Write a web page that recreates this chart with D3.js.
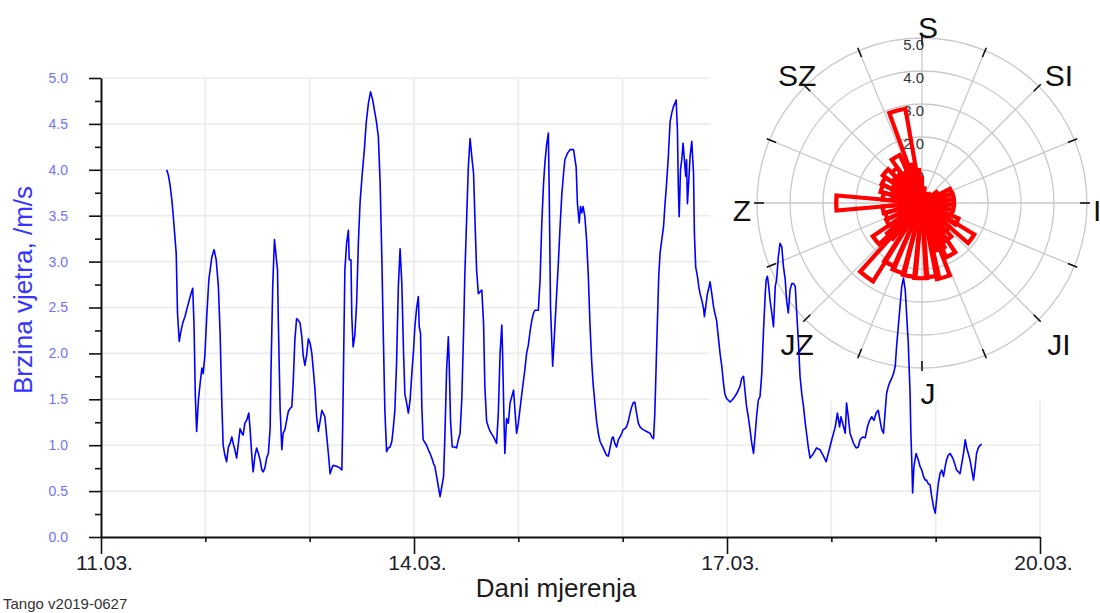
<!DOCTYPE html>
<html>
<head>
<meta charset="utf-8">
<script src="https://cdn.jsdelivr.net/npm/d3@7/dist/d3.min.js"></script>
<style>
  html, body { margin: 0; padding: 0; background: #ffffff; }
  svg { display: block; font-family: "Liberation Sans", Arial, sans-serif; }
</style>
</head>
<body>
<svg id="chart" width="1100" height="613"></svg>
<script>
// Wind speed series: hours since 11.03. 00:00 and speed in m/s
const hours = [
  15.1,15.5,15.9,16.3,16.6,17.3,17.6,18.0,18.3,18.8,
  19.3,19.9,20.3,20.7,21.1,21.4,21.7,22.0,22.4,22.8,
  23.2,23.5,23.9,24.3,24.8,25.5,26.0,26.5,27.0,27.4,
  27.8,28.1,28.5,28.9,29.3,29.7,30.1,30.4,30.8,31.2,
  31.6,32.0,32.4,32.7,33.1,33.5,34.0,34.3,34.7,35.0,
  35.4,35.8,36.2,36.6,37.0,37.3,37.7,38.1,38.5,38.9,
  39.1,39.5,39.9,40.3,40.6,40.8,41.2,41.6,41.9,42.3,
  42.7,43.1,43.5,43.9,44.2,44.6,45.0,45.4,45.8,46.2,
  46.5,46.9,47.3,47.7,48.1,48.5,48.8,49.2,49.6,50.0,
  50.4,50.8,51.1,51.5,51.9,52.3,52.7,53.1,53.4,54.2,
  55.0,55.4,55.6,55.9,56.1,56.5,56.9,57.1,57.5,57.7,
  58.0,58.4,58.8,59.2,59.6,60.1,60.6,61.0,61.5,62.0,
  62.5,62.9,63.4,63.8,64.2,64.6,64.95,65.3,65.7,66.1,
  66.5,66.9,67.2,67.6,68.0,68.4,68.8,69.2,69.6,69.9,
  70.3,70.7,71.1,71.5,71.9,72.2,72.6,73.0,73.2,73.5,
  73.8,74.1,74.9,75.3,75.7,76.1,76.5,76.8,77.2,77.6,
  78.0,78.4,78.8,79.1,79.5,79.9,80.1,80.4,80.8,81.4,
  81.8,82.2,82.6,83.0,83.4,83.7,84.1,84.5,84.9,85.3,
  85.7,86.0,86.4,86.8,87.2,87.6,88.0,88.3,88.7,89.1,
  89.5,90.3,90.6,91.0,91.4,91.8,92.2,92.4,92.7,92.9,
  93.3,93.7,94.1,94.5,94.9,95.2,95.6,96.0,96.4,96.8,
  97.2,97.5,97.9,98.3,98.7,99.1,99.5,99.8,100.6,101.0,
  101.4,101.8,102.1,102.5,102.9,103.1,103.4,103.9,104.2,104.7,
  105.2,105.6,106.0,106.4,106.7,107.3,107.9,108.7,109.3,109.6,
  110.0,110.3,110.6,110.9,111.3,111.7,112.1,112.5,112.9,113.2,
  113.6,114.0,114.4,114.8,115.2,115.5,116.3,116.7,117.1,117.5,
  117.8,118.2,118.6,119.0,119.4,119.8,120.1,120.5,120.9,121.3,
  121.7,122.1,122.4,122.8,123.2,123.6,124.0,124.4,124.7,125.5,
  126.3,126.7,127.1,127.4,127.7,128.0,128.3,128.6,129.0,129.4,
  129.7,130.1,130.5,130.9,131.3,131.7,132.0,132.3,132.6,132.8,
  133.0,133.3,133.6,133.9,134.2,134.5,134.7,134.9,135.3,135.5,
  135.9,136.3,136.5,136.8,137.2,137.5,137.8,138.2,138.6,138.8,
  139.1,139.5,139.9,140.1,140.5,140.9,141.2,141.6,142.0,142.4,
  142.8,143.2,143.5,143.9,144.3,144.7,145.1,145.5,145.8,146.2,
  146.6,147.0,147.4,147.8,148.2,148.5,148.9,149.3,149.7,150.1,
  150.5,150.8,151.2,151.6,152.0,152.4,152.8,153.0,153.3,153.6,
  153.9,154.3,154.7,155.1,155.4,155.8,156.2,156.6,157.0,157.4,
  157.7,158.1,158.5,158.9,159.3,159.7,160.0,160.4,160.8,161.2,
  161.6,162.0,162.3,162.7,163.1,163.9,164.6,165.4,166.2,166.8,
  167.3,168.1,168.9,169.4,169.9,170.2,170.6,171.2,171.5,171.9,
  172.3,173.1,173.7,174.2,174.6,175.2,175.8,176.3,176.8,177.3,
  177.8,178.3,178.8,179.2,179.6,180.0,180.4,180.7,181.1,181.5,
  181.9,182.3,182.7,183.0,183.4,183.8,184.2,184.6,185.0,185.3,
  185.7,186.1,186.3,186.5,186.7,187.0,187.5,188.0,188.4,188.8,
  189.2,189.6,189.9,190.3,190.7,191.1,191.5,191.9,192.2,192.6,
  193.0,193.4,193.8,194.2,194.5,194.9,195.3,195.7,196.1,196.5,
  196.8,197.2,197.6,198.0,198.4,198.8,199.1,199.5,199.9,200.3,
  200.7,201.1,201.4,201.8,202.2,202.6
];
const speed = [
  4.00,3.94,3.83,3.67,3.51,3.09,2.44,2.13,2.22,2.33,
  2.40,2.51,2.58,2.65,2.71,2.31,1.53,1.15,1.49,1.67,
  1.84,1.78,1.98,2.38,2.80,3.05,3.13,3.02,2.73,2.22,
  1.44,1.00,0.89,0.82,0.98,1.02,1.09,1.02,0.95,0.86,
  1.02,1.18,1.13,1.11,1.24,1.27,1.35,1.17,0.88,0.71,
  0.88,0.97,0.91,0.84,0.73,0.71,0.75,0.86,0.91,1.18,
  1.78,2.73,3.24,3.05,2.91,2.33,1.40,0.95,1.13,1.17,
  1.27,1.37,1.40,1.42,1.67,2.15,2.38,2.36,2.33,2.18,
  1.98,1.87,1.98,2.16,2.11,2.00,1.84,1.62,1.31,1.15,
  1.26,1.38,1.35,1.31,1.11,0.91,0.69,0.75,0.78,0.77,
  0.75,0.73,1.22,2.25,2.91,3.20,3.34,3.02,3.02,2.40,
  2.07,2.20,2.55,3.20,3.65,3.96,4.23,4.51,4.72,4.85,
  4.76,4.65,4.51,4.36,3.87,3.04,2.18,1.37,0.93,0.97,
  0.98,1.04,1.17,1.38,1.91,2.73,3.14,2.76,2.00,1.56,
  1.46,1.35,1.49,1.78,2.04,2.29,2.49,2.62,2.29,2.22,
  1.42,1.06,1.00,0.95,0.91,0.86,0.80,0.77,0.66,0.55,
  0.44,0.55,0.66,1.09,1.82,2.18,1.89,1.27,0.98,0.98,
  0.97,1.06,1.13,1.51,2.22,2.87,3.45,4.03,4.34,4.14,
  3.96,3.49,2.91,2.65,2.67,2.69,2.33,1.64,1.26,1.20,
  1.15,1.09,1.06,1.02,1.35,2.00,2.31,1.96,1.27,0.91,
  1.29,1.24,1.46,1.53,1.60,1.40,1.13,1.24,1.40,1.56,
  1.71,1.82,2.00,2.09,2.24,2.36,2.44,2.47,2.47,2.80,
  3.42,3.85,4.07,4.27,4.40,3.78,2.51,1.86,2.11,2.55,
  2.98,3.38,3.73,3.96,4.11,4.18,4.22,4.22,4.03,3.63,
  3.42,3.60,3.53,3.60,3.49,3.24,2.84,2.29,1.89,1.67,
  1.46,1.26,1.13,1.04,1.00,0.97,0.89,0.88,0.97,1.07,
  1.09,1.02,0.98,1.06,1.09,1.13,1.17,1.18,1.20,1.26,
  1.35,1.42,1.46,1.47,1.35,1.24,1.20,1.18,1.17,1.15,
  1.13,1.09,1.07,1.35,1.86,2.36,2.84,3.09,3.24,3.38,
  3.60,3.85,4.14,4.52,4.62,4.69,4.72,4.76,4.43,3.82,
  3.49,4.00,4.11,4.29,4.11,3.93,4.11,3.63,3.96,4.14,
  4.31,3.96,3.31,2.94,2.84,2.73,2.65,2.58,2.49,2.40,
  2.51,2.65,2.73,2.78,2.65,2.51,2.44,2.36,2.18,2.00,
  1.86,1.67,1.56,1.51,1.49,1.47,1.49,1.51,1.53,1.56,
  1.60,1.64,1.73,1.75,1.56,1.42,1.31,1.17,1.02,0.91,
  1.13,1.31,1.49,1.53,1.78,2.25,2.65,2.80,2.84,2.73,
  2.58,2.44,2.29,2.73,2.80,3.05,3.20,3.16,2.94,2.80,
  2.58,2.44,2.69,2.76,2.76,2.73,2.47,2.15,1.75,1.56,
  1.42,1.24,1.13,0.98,0.86,0.91,0.97,0.95,0.88,0.82,
  0.91,1.06,1.20,1.35,1.20,1.31,1.24,1.13,1.46,1.31,
  1.13,1.02,0.97,0.98,1.06,1.09,1.08,1.20,1.27,1.31,
  1.27,1.35,1.38,1.27,1.17,1.13,1.38,1.56,1.64,1.69,
  1.73,1.78,1.86,2.07,2.29,2.51,2.73,2.82,2.69,2.44,
  2.11,1.58,1.13,0.84,0.48,0.77,0.91,0.84,0.77,0.73,
  0.66,0.62,0.62,0.58,0.57,0.44,0.33,0.26,0.40,0.58,
  0.69,0.73,0.66,0.77,0.84,0.89,0.91,0.88,0.84,0.78,
  0.73,0.71,0.69,0.80,0.91,1.06,0.98,0.91,0.84,0.73,
  0.62,0.77,0.91,0.97,1.00,1.01
];

// Axis ticks
const speedTicks = [0, 0.5, 1, 1.5, 2, 2.5, 3, 3.5, 4, 4.5, 5];
const speedMinorTicks = [0.25, 0.75, 1.25, 1.75, 2.25, 2.75, 3.25, 3.75, 4.25, 4.75];
const dayHours = [0, 24, 48, 72, 96, 120, 144, 168, 192, 216];
const dayLabelHours = [0, 72, 144, 216];
const dayLabels = ["11.03.", "14.03.", "17.03.", "20.03."];

// Wind rose: direction (degrees, clockwise from north) and speed (m/s)
const roseDir = [
  345, 330, 340, 350, 355, 5, 15, 30, 45, 58,
  68, 78, 88, 98, 108, 118, 126, 136, 144, 151,
  158, 164, 172, 181, 190, 199, 208, 217, 224, 231,
  240, 250, 260, 270, 280, 290, 300, 310, 320, 325,
  305, 295, 285, 315, 335
];
const roseSpeed = [
  2.9, 1.6, 1.2, 1.0, 0.75, 0.45, 0.3, 0.3, 0.35, 0.55,
  0.95, 0.97, 0.97, 0.97, 0.95, 1.2, 1.85, 1.1, 1.35, 1.8,
  1.5, 2.35, 2.25, 2.28, 2.25, 2.2, 2.1, 2.8, 1.4, 1.8,
  1.2, 1.15, 1.2, 2.6, 1.2, 1.3, 1.35, 1.45, 1.3, 1.05,
  1.0, 0.95, 0.9, 1.1, 1.0
];
const roseRings = [1, 2, 3, 4, 5];
const compassLabels = ["S", "SI", "I", "JI", "J", "JZ", "Z", "SZ"];
const compassAngles = [0, 45, 90, 135, 180, 225, 270, 315];

const svg = d3.select("#chart");

// ---- line chart ----
const plot = { left: 101, right: 1040, top: 78, bottom: 537 };
const x = d3.scaleLinear().domain([0, 216]).range([plot.left, plot.right]);
const y = d3.scaleLinear().domain([0, 5]).range([plot.bottom, plot.top]);

const grid = svg.append("g").attr("stroke", "#ebebeb").attr("stroke-width", 1.6);
grid.selectAll("line.h").data(speedTicks.filter(d => d > 0)).join("line")
  .attr("x1", plot.left).attr("x2", plot.right)
  .attr("y1", d => y(d)).attr("y2", d => y(d));
grid.selectAll("line.v").data(dayHours.filter(d => d > 0)).join("line")
  .attr("x1", d => x(d)).attr("x2", d => x(d))
  .attr("y1", plot.top).attr("y2", plot.bottom);

// ---- polar panel ----
const cx = 922, cy = 203, R = 165;
const r = d3.scaleLinear().domain([0, 5]).range([0, R]);
svg.append("rect").attr("x", 710).attr("y", 0).attr("width", 390).attr("height", 401).attr("fill", "#ffffff");

const polar = svg.append("g").attr("transform", `translate(${cx},${cy})`);
polar.selectAll("circle.ring").data(roseRings).join("circle")
  .attr("r", d => r(d)).attr("fill", "none")
  .attr("stroke", "#c9c9c9").attr("stroke-width", 1.3);
const spokes = d3.range(16).map(i => i * 22.5);
polar.selectAll("line.spoke").data(spokes).join("line")
  .attr("x1", 0).attr("y1", 0)
  .attr("x2", d => R * Math.sin(d * Math.PI / 180))
  .attr("y2", d => -R * Math.cos(d * Math.PI / 180))
  .attr("stroke", "#c9c9c9").attr("stroke-width", 1.3);
polar.selectAll("line.tick").data(spokes).join("line")
  .attr("x1", d => (R - 7) * Math.sin(d * Math.PI / 180))
  .attr("y1", d => -(R - 7) * Math.cos(d * Math.PI / 180))
  .attr("x2", d => (R + 3) * Math.sin(d * Math.PI / 180))
  .attr("y2", d => -(R + 3) * Math.cos(d * Math.PI / 180))
  .attr("stroke", "#111").attr("stroke-width", 1.6);

polar.selectAll("text.ring").data(roseRings).join("text")
  .attr("x", 2).attr("y", d => -r(d) + 6)
  .attr("text-anchor", "end").attr("dominant-baseline", "central")
  .attr("font-size", 15).attr("fill", "#333")
  .text(d => d.toFixed(1));

const wedge = d3.arc().innerRadius(0);
const half = 5 * Math.PI / 180;
polar.selectAll("path.wedge").data(roseDir.map((d, i) => ({ dir: d, v: roseSpeed[i] }))).join("path")
  .attr("d", d => wedge({
    outerRadius: r(d.v),
    startAngle: d.dir * Math.PI / 180 - half,
    endAngle: d.dir * Math.PI / 180 + half
  }))
  .attr("fill", "none").attr("stroke", "#ff0000")
  .attr("stroke-width", 4.2).attr("stroke-linejoin", "miter");

polar.selectAll("text.compass").data(compassLabels).join("text")
  .each(function (d, i) {
    const a = compassAngles[i] * Math.PI / 180;
    const s = Math.sin(a), c = Math.cos(a);
    const t = d3.select(this);
    if (Math.abs(s) > 0.99) {
      t.attr("x", s * 171).attr("text-anchor", s > 0 ? "start" : "end");
    } else {
      t.attr("x", 6 + s * 185).attr("text-anchor", "middle");
    }
    t.attr("y", 7 - c * (Math.abs(c) > 0.99 ? 183 : 190));
  })
  .attr("dominant-baseline", "central")
  .attr("font-size", 30).attr("fill", "#111")
  .text(d => d);

// ---- axes ----
const yAxis = svg.append("g").attr("transform", `translate(${plot.left},0)`)
  .call(d3.axisLeft(y).tickValues(speedTicks).tickSize(12).tickPadding(21).tickSizeOuter(0)
    .tickFormat(d3.format(".1f")));
yAxis.select(".domain").attr("stroke", "#111").attr("stroke-width", 2);
yAxis.selectAll(".tick line").attr("stroke", "#111").attr("stroke-width", 1.6);
yAxis.selectAll(".tick text").attr("font-size", 14).attr("fill", "#7272ff")
  .attr("font-family", "'Liberation Sans', Arial, sans-serif");
const yMinor = svg.append("g").attr("transform", `translate(${plot.left},0)`)
  .call(d3.axisLeft(y).tickValues(speedMinorTicks).tickSize(6).tickFormat(""));
yMinor.select(".domain").remove();
yMinor.selectAll(".tick line").attr("stroke", "#111").attr("stroke-width", 1.6);

const xAxis = svg.append("g").attr("transform", `translate(0,${plot.bottom})`)
  .call(d3.axisBottom(x).tickValues(dayLabelHours).tickSize(17).tickSizeOuter(0)
    .tickFormat((d, i) => dayLabels[i]));
xAxis.select(".domain").attr("stroke", "#111").attr("stroke-width", 2);
xAxis.selectAll(".tick line").attr("stroke", "#111").attr("stroke-width", 1.6);
xAxis.selectAll(".tick text").attr("y", 33).attr("dy", 0).attr("x", 3)
  .attr("font-size", 21).attr("fill", "#1c1c2a")
  .attr("font-family", "'Liberation Sans', Arial, sans-serif");
const xMinor = svg.append("g").attr("transform", `translate(0,${plot.bottom})`)
  .call(d3.axisBottom(x).tickValues(dayHours.filter(d => !dayLabelHours.includes(d))).tickSize(5).tickFormat(""));
xMinor.select(".domain").remove();
xMinor.selectAll(".tick line").attr("stroke", "#111").attr("stroke-width", 1.6);

// ---- series line ----
const line = d3.line().x((d, i) => x(hours[i])).y(d => y(d));
svg.append("path").datum(speed)
  .attr("d", line).attr("fill", "none")
  .attr("stroke", "#0000ff").attr("stroke-width", 1.6).attr("stroke-linejoin", "round");

// ---- titles ----
svg.append("text").attr("transform", "translate(32,290) rotate(-90)")
  .attr("text-anchor", "middle").attr("font-size", 26).attr("fill", "#3535ff")
  .text("Brzina vjetra, /m/s");
svg.append("text").attr("x", 556).attr("y", 597)
  .attr("text-anchor", "middle").attr("font-size", 26).attr("fill", "#1a1a1a")
  .text("Dani mjerenja");
svg.append("text").attr("x", 3).attr("y", 609)
  .attr("font-size", 15).attr("fill", "#333")
  .text("Tango v2019-0627");
</script>
</body>
</html>
